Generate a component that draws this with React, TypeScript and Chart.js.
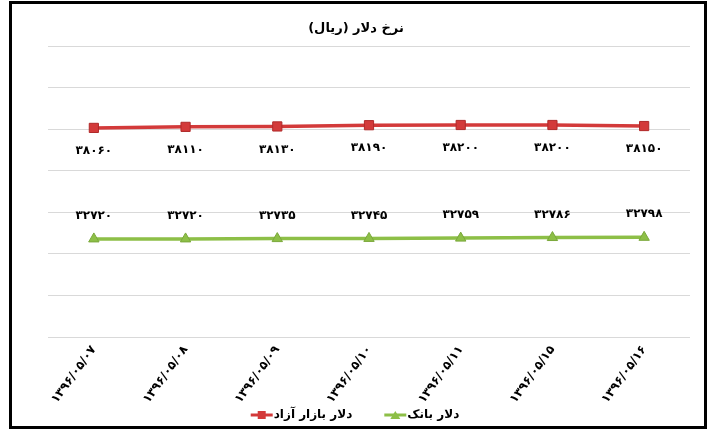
import React, { useEffect, useRef } from 'react';
import { Chart, registerables } from 'chart.js';

Chart.register(...registerables);

const categories = ['۱۳۹۶/۰۵/۰۷', '۱۳۹۶/۰۵/۰۸', '۱۳۹۶/۰۵/۰۹', '۱۳۹۶/۰۵/۱۰', '۱۳۹۶/۰۵/۱۱', '۱۳۹۶/۰۵/۱۵', '۱۳۹۶/۰۵/۱۶'];
const freeMarket = [38060, 38110, 38130, 38190, 38200, 38200, 38150];
const bankRate = [32720, 32720, 32735, 32745, 32759, 32786, 32798];
const seriesNames = ['دلار بازار آزاد', 'دلار بانک'];
const titleText = 'نرخ دلار (ریال)';
const yMin = 28000;
const yMax = 42000;
const yStep = 2000;

const RED = '#d33a3a';
const GREEN = '#8dbf47';
const FONT = 'DejaVu Sans';

const toFa = (n: number) => String(n).replace(/\d/g, (d) => '۰۱۲۳۴۵۶۷۸۹'[+d]);

function drawIcon(g: CanvasRenderingContext2D, x: number, y: number, color: string, shape: string) {
  g.save();
  g.strokeStyle = color;
  g.lineWidth = 3;
  g.beginPath();
  g.moveTo(x, y);
  g.lineTo(x + 22, y);
  g.stroke();
  g.fillStyle = color;
  g.beginPath();
  if (shape === 'rect') {
    g.rect(x + 7, y - 4, 8, 8);
  } else {
    g.moveTo(x + 11, y - 4);
    g.lineTo(x + 16, y + 4);
    g.lineTo(x + 6, y + 4);
    g.closePath();
  }
  g.fill();
  g.restore();
}

const decorations = {
  id: 'decorations',
  afterDatasetsDraw(chart: any) {
    const ctx = chart.ctx;
    ctx.save();
    // value labels
    ctx.font = `bold 12px "${FONT}"`;
    ctx.fillStyle = '#000';
    ctx.textAlign = 'center';
    ctx.textBaseline = 'middle';
    chart.data.datasets.forEach((ds: any, i: number) => {
      const meta = chart.getDatasetMeta(i);
      const off = i === 0 ? 23 : -23;
      meta.data.forEach((pt: any, j: number) => {
        ctx.fillText(toFa(ds.data[j]), pt.x, pt.y + off);
      });
    });
    // title (right-to-left)
    ctx.direction = 'rtl';
    ctx.font = `bold 13px "${FONT}"`;
    ctx.textAlign = 'center';
    ctx.fillText(titleText, 344, 25);
    // legend
    ctx.font = `bold 12px "${FONT}"`;
    ctx.textAlign = 'left';
    const shapes = ['rect', 'triangle'];
    const gap = 1;
    const space = 32;
    const widths = chart.data.datasets.map((ds: any) => 22 + gap + ctx.measureText(ds.label).width);
    const total = widths.reduce((a: number, b: number) => a + b, 0) + space * (widths.length - 1);
    let x = 343 - total / 2;
    const y = 411;
    chart.data.datasets.forEach((ds: any, i: number) => {
      drawIcon(ctx, x, y, ds.borderColor, shapes[i]);
      ctx.fillText(ds.label, x + 22 + gap, y);
      x += widths[i] + space;
    });
    ctx.restore();
  },
};

export default function App() {
  const ref = useRef<HTMLCanvasElement>(null);
  useEffect(() => {
    if (!ref.current) return;
    const chart = new Chart(ref.current, {
      type: 'line',
      data: {
        labels: categories,
        datasets: [
          {
            label: seriesNames[0],
            data: freeMarket,
            borderColor: RED,
            backgroundColor: RED,
            borderWidth: 3.5,
            pointStyle: 'rect',
            pointRadius: 6.5,
            pointBorderColor: '#b02a2a',
            pointBorderWidth: 1,
            pointBackgroundColor: RED,
            tension: 0,
          },
          {
            label: seriesNames[1],
            data: bankRate,
            borderColor: GREEN,
            backgroundColor: GREEN,
            borderWidth: 3.5,
            pointStyle: 'triangle',
            pointRadius: 6,
            pointBorderColor: '#7aa83a',
            pointBorderWidth: 1,
            pointBackgroundColor: GREEN,
            tension: 0,
          },
        ],
      },
      options: {
        animation: false,
        responsive: false,
        layout: { padding: { left: 36, right: 14, top: 42, bottom: 14 } },
        plugins: {
          title: { display: false },
          legend: { display: false },
          tooltip: { enabled: false },
        },
        scales: {
          x: {
            offset: true,
            grid: { display: false, drawTicks: false },
            border: { display: false },
            ticks: {
              autoSkip: false,
              minRotation: 54,
              maxRotation: 54,
              color: '#000',
              padding: 6,
              font: { family: FONT, size: 12, weight: 'bold' },
            },
          },
          y: {
            min: yMin,
            max: yMax,
            ticks: { stepSize: yStep, display: false },
            grid: { color: '#d9d9d9', lineWidth: 1, drawTicks: false },
            border: { display: false },
          },
        },
      },
      plugins: [decorations],
    });
    return () => chart.destroy();
  }, []);

  return (
    <div
      style={{
        position: 'fixed',
        left: 9,
        top: 1,
        width: 698,
        height: 428,
        border: '3px solid #000',
        boxSizing: 'border-box',
        background: '#fff',
      }}
    >
      <canvas ref={ref} width={692} height={422} style={{ display: 'block' }} />
    </div>
  );
}
